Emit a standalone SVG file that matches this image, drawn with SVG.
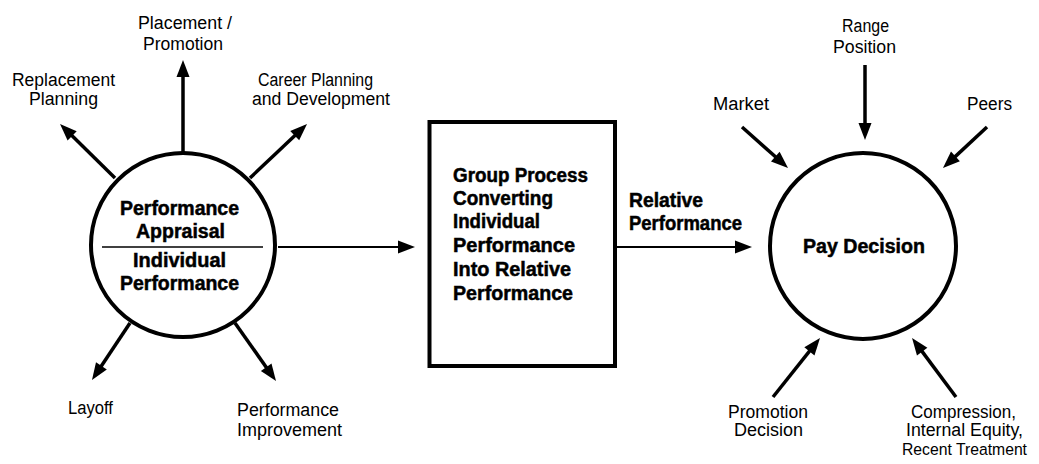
<svg xmlns="http://www.w3.org/2000/svg" width="1039" height="464" viewBox="0 0 1039 464">
  <style>
    .lbl { font-family: "Liberation Sans", Arial, sans-serif; font-size: 18px; fill: #000; }
    .bold { font-family: "Liberation Sans", Arial, sans-serif; font-size: 20px; font-weight: bold; fill: #000; stroke: #000; stroke-width: 0.5; }
    .node { fill: #fff; stroke: #000; stroke-width: 4; }
    .thick { stroke: #000; stroke-width: 3.5; fill: none; marker-end: url(#head); }
    .thin { stroke: #000; stroke-width: 2; fill: none; marker-end: url(#head); }
  </style>
  <defs>
    <marker id="head" markerUnits="userSpaceOnUse" markerWidth="17" markerHeight="13" refX="4" refY="6.5" orient="auto" overflow="visible">
      <path d="M0,0 L17,6.5 L0,13 Z" fill="#000"/>
    </marker>
  </defs>
  <rect width="1039" height="464" fill="#fff"/>

  <!-- connectors -->
  <g id="connectors">
    <!-- outputs of the appraisal -->
    <line class="thick" x1="183" y1="153" x2="183" y2="73"/>
    <line class="thick" x1="115" y1="178" x2="69.3" y2="133.1"/>
    <line class="thick" x1="250" y1="178" x2="297.6" y2="132.9"/>
    <line class="thick" x1="130" y1="323" x2="99.2" y2="369.2"/>
    <line class="thick" x1="235" y1="323" x2="268.5" y2="370.4"/>
    <!-- main flow -->
    <line class="thin" x1="278" y1="247" x2="402" y2="247"/>
    <line class="thin" x1="617" y1="247" x2="739" y2="247"/>
    <!-- inputs to the pay decision -->
    <line class="thick" x1="865" y1="65" x2="865" y2="127"/>
    <line class="thick" x1="742" y1="127" x2="778.3" y2="159.3"/>
    <line class="thick" x1="987" y1="127" x2="952.5" y2="159.1"/>
    <line class="thick" x1="773" y1="397" x2="811.9" y2="348.2"/>
    <line class="thick" x1="956" y1="397" x2="919.8" y2="348.4"/>
  </g>

  <!-- appraisal circle -->
  <g id="appraisal">
    <circle class="node" cx="183" cy="245" r="92"/>
    <line x1="102" y1="247" x2="263" y2="247" stroke="#000" stroke-width="1.5"/>
    <text class="bold" x="120" y="215" textLength="119" lengthAdjust="spacingAndGlyphs">Performance</text>
    <text class="bold" x="136" y="238" textLength="89" lengthAdjust="spacingAndGlyphs">Appraisal</text>
    <text class="bold" x="133" y="267" textLength="93" lengthAdjust="spacingAndGlyphs">Individual</text>
    <text class="bold" x="120" y="290" textLength="119" lengthAdjust="spacingAndGlyphs">Performance</text>
  </g>

  <g id="placement">
    <text class="lbl" x="138" y="29" textLength="94" lengthAdjust="spacingAndGlyphs">Placement /</text>
    <text class="lbl" x="143" y="50" textLength="80" lengthAdjust="spacingAndGlyphs">Promotion</text>
  </g>
  <g id="replacement">
    <text class="lbl" x="12" y="86" textLength="103" lengthAdjust="spacingAndGlyphs">Replacement</text>
    <text class="lbl" x="29" y="105" textLength="69" lengthAdjust="spacingAndGlyphs">Planning</text>
  </g>
  <g id="career">
    <text class="lbl" x="258" y="86" textLength="115" lengthAdjust="spacingAndGlyphs">Career Planning</text>
    <text class="lbl" x="252" y="105" textLength="138" lengthAdjust="spacingAndGlyphs">and Development</text>
  </g>
  <g id="layoff">
    <text class="lbl" x="68" y="414" textLength="45" lengthAdjust="spacingAndGlyphs">Layoff</text>
  </g>
  <g id="improvement">
    <text class="lbl" x="237" y="416" textLength="102" lengthAdjust="spacingAndGlyphs">Performance</text>
    <text class="lbl" x="237" y="436" textLength="105" lengthAdjust="spacingAndGlyphs">Improvement</text>
  </g>

  <!-- group process box -->
  <g id="group-process">
    <rect class="node" x="429.5" y="122" width="185.5" height="244"/>
    <text class="bold" x="453" y="182" textLength="135" lengthAdjust="spacingAndGlyphs">Group Process</text>
    <text class="bold" x="453" y="205" textLength="100" lengthAdjust="spacingAndGlyphs">Converting</text>
    <text class="bold" x="453" y="228" textLength="87" lengthAdjust="spacingAndGlyphs">Individual</text>
    <text class="bold" x="453" y="252" textLength="122" lengthAdjust="spacingAndGlyphs">Performance</text>
    <text class="bold" x="453" y="276" textLength="118" lengthAdjust="spacingAndGlyphs">Into Relative</text>
    <text class="bold" x="453" y="300" textLength="120" lengthAdjust="spacingAndGlyphs">Performance</text>
  </g>

  <g id="relative-performance">
    <text class="bold" x="629" y="207" textLength="74" lengthAdjust="spacingAndGlyphs">Relative</text>
    <text class="bold" x="629" y="230" textLength="113" lengthAdjust="spacingAndGlyphs">Performance</text>
  </g>

  <!-- pay decision circle -->
  <g id="pay-decision">
    <circle class="node" cx="863" cy="246" r="93"/>
    <text class="bold" x="803" y="253" textLength="122" lengthAdjust="spacingAndGlyphs">Pay Decision</text>
  </g>

  <g id="range">
    <text class="lbl" x="842" y="32" textLength="47" lengthAdjust="spacingAndGlyphs">Range</text>
    <text class="lbl" x="833" y="53" textLength="63" lengthAdjust="spacingAndGlyphs">Position</text>
  </g>
  <g id="market">
    <text class="lbl" x="713" y="110" textLength="56" lengthAdjust="spacingAndGlyphs">Market</text>
  </g>
  <g id="peers">
    <text class="lbl" x="967" y="110" textLength="45" lengthAdjust="spacingAndGlyphs">Peers</text>
  </g>
  <g id="promotion-decision">
    <text class="lbl" x="728" y="418" textLength="80" lengthAdjust="spacingAndGlyphs">Promotion</text>
    <text class="lbl" x="734" y="436" textLength="69" lengthAdjust="spacingAndGlyphs">Decision</text>
  </g>
  <g id="compression">
    <text class="lbl" x="911" y="418" textLength="105" lengthAdjust="spacingAndGlyphs">Compression,</text>
    <text class="lbl" x="906" y="436" textLength="117" lengthAdjust="spacingAndGlyphs">Internal Equity,</text>
    <text class="lbl" x="902" y="455" style="font-size:16.8px" textLength="125" lengthAdjust="spacingAndGlyphs">Recent Treatment</text>
  </g>
</svg>
